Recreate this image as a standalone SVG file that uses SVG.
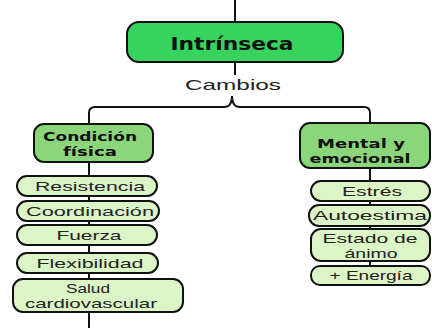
<svg xmlns="http://www.w3.org/2000/svg" width="432" height="328" viewBox="0 0 432 328">
<style>
.ln{fill:none;stroke:#111;stroke-width:2}
.main{fill:#36d35f;stroke:#111;stroke-width:2}
.cat{fill:#8bd67b;stroke:#111;stroke-width:2}
.sub{fill:#dcf5c6;stroke:#111;stroke-width:2}
.tb{font-family:"DejaVu Sans",sans-serif;font-weight:bold;fill:#111;text-anchor:middle;dominant-baseline:central}
.t{font-family:"Liberation Sans",Arial,sans-serif;fill:#222;text-anchor:middle;dominant-baseline:central}
</style>
<g id="connectors">
<path class="ln" d="M235,0 V22 M235,62 V75"/>
<path class="ln" d="M89,124 V113 Q89,107 95,107 H224 Q232,107 232,96 Q232,107 240,107 H364 Q370,107 370,113 V123"/>
<path class="ln" d="M89,162 V328"/>
<path class="ln" d="M370,168 V267"/>
</g>
<g id="intrinseca">
<rect class="main" x="127" y="22" width="216" height="40" rx="12"/>
<text class="tb" x="232" y="43" font-size="18" textLength="123" lengthAdjust="spacingAndGlyphs">Intrínseca</text>
</g>
<g id="cambios">
<text class="t" x="233" y="84" font-size="15" textLength="96" lengthAdjust="spacingAndGlyphs">Cambios</text>
</g>
<g id="condicion">
<rect class="cat" x="34" y="124" width="119" height="38" rx="10"/>
<text class="tb" x="90" y="136" font-size="13" textLength="94" lengthAdjust="spacingAndGlyphs">Condición</text>
<text class="tb" x="90" y="151" font-size="13" textLength="54" lengthAdjust="spacingAndGlyphs">física</text>
</g>
<g id="mental">
<rect class="cat" x="300" y="123" width="130" height="45" rx="10"/>
<text class="tb" x="361" y="143" font-size="13" textLength="88" lengthAdjust="spacingAndGlyphs">Mental y</text>
<text class="tb" x="360" y="158" font-size="13" textLength="101" lengthAdjust="spacingAndGlyphs">emocional</text>
</g>
<g id="resistencia">
<rect class="sub" x="17" y="176" width="140" height="20" rx="10"/>
<text class="t" x="90" y="186" font-size="13" textLength="110" lengthAdjust="spacingAndGlyphs">Resistencia</text>
</g>
<g id="coordinacion">
<rect class="sub" x="17" y="201" width="142" height="20" rx="10"/>
<text class="t" x="90" y="211" font-size="13" textLength="128" lengthAdjust="spacingAndGlyphs">Coordinación</text>
</g>
<g id="fuerza">
<rect class="sub" x="17" y="225" width="140" height="20" rx="10"/>
<text class="t" x="89" y="235" font-size="13" textLength="65" lengthAdjust="spacingAndGlyphs">Fuerza</text>
</g>
<g id="flexibilidad">
<rect class="sub" x="17" y="253" width="141" height="20" rx="10"/>
<text class="t" x="90" y="263" font-size="13" textLength="107" lengthAdjust="spacingAndGlyphs">Flexibilidad</text>
</g>
<g id="salud">
<rect class="sub" x="13" y="279" width="170" height="33" rx="10"/>
<text class="t" x="88" y="288" font-size="13" textLength="44" lengthAdjust="spacingAndGlyphs">Salud</text>
<text class="t" x="91" y="303" font-size="13" textLength="132" lengthAdjust="spacingAndGlyphs">cardiovascular</text>
</g>
<g id="estres">
<rect class="sub" x="311" y="181" width="119" height="20" rx="10"/>
<text class="t" x="372" y="191" font-size="13" textLength="60" lengthAdjust="spacingAndGlyphs">Estrés</text>
</g>
<g id="autoestima">
<rect class="sub" x="309" y="205" width="121" height="21" rx="10"/>
<text class="t" x="370" y="215" font-size="13" textLength="114" lengthAdjust="spacingAndGlyphs">Autoestima</text>
</g>
<g id="estado">
<rect class="sub" x="311" y="229" width="119" height="32" rx="10"/>
<text class="t" x="370" y="238" font-size="13" textLength="95" lengthAdjust="spacingAndGlyphs">Estado de</text>
<text class="t" x="371" y="253" font-size="13" textLength="53" lengthAdjust="spacingAndGlyphs">ánimo</text>
</g>
<g id="energia">
<rect class="sub" x="311" y="266" width="119" height="19" rx="9"/>
<text class="t" x="371" y="275" font-size="13" textLength="83" lengthAdjust="spacingAndGlyphs">+ Energía</text>
</g>
</svg>
